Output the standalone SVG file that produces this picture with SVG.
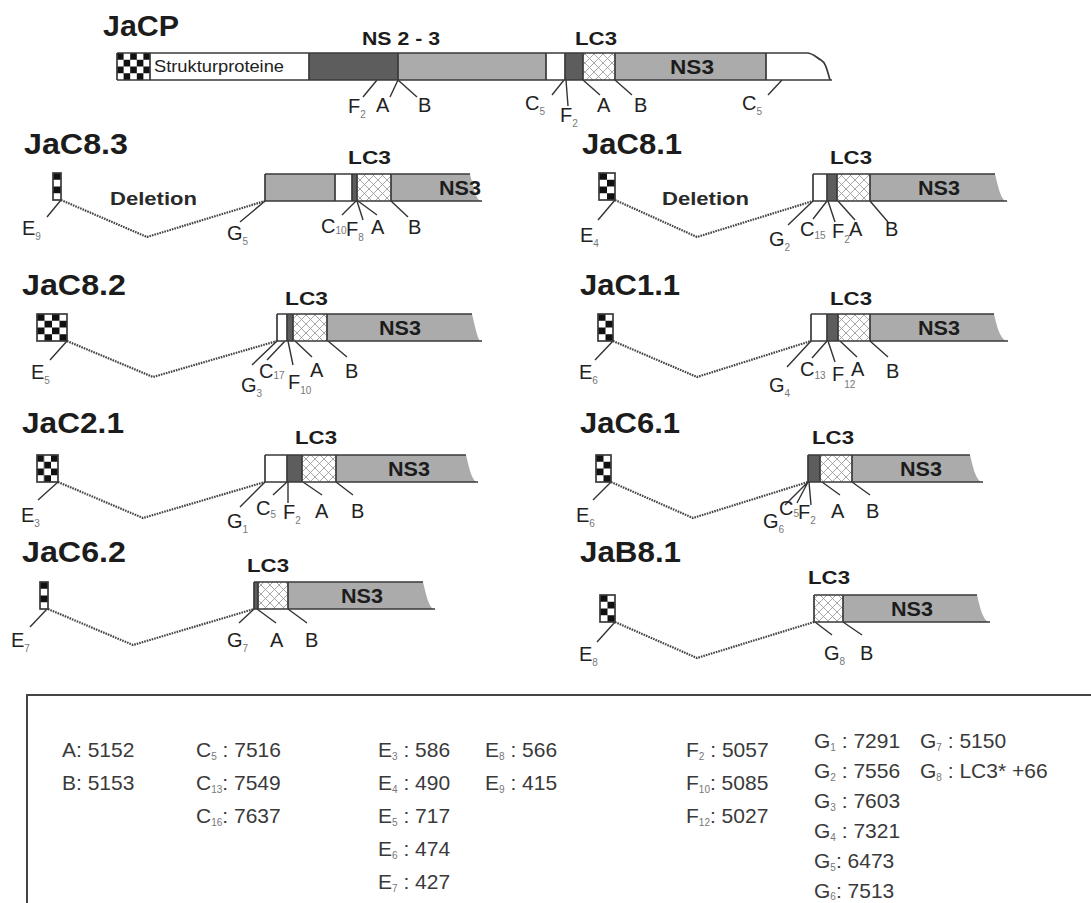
<svg xmlns="http://www.w3.org/2000/svg" width="1091" height="903" viewBox="0 0 1091 903">
<defs>
  <style>
    .title{font-family:"Liberation Sans",Arial,sans-serif;font-weight:bold;font-size:29px;fill:#1c1c1c}
    .hd{font-family:"Liberation Sans",Arial,sans-serif;font-weight:bold;font-size:19px;fill:#1c1c1c}
    .ns{font-family:"Liberation Sans",Arial,sans-serif;font-weight:bold;font-size:20px;fill:#1c1c1c;text-anchor:middle}
    .del{font-family:"Liberation Sans",Arial,sans-serif;font-weight:bold;font-size:19px;fill:#2a2a2a}
    .lb{font-family:"Liberation Sans",Arial,sans-serif;font-size:20px;fill:#222}
    .sp{font-family:"Liberation Sans",Arial,sans-serif;font-size:17px;fill:#222}
    .sb{font-size:10px;fill:#777}
    .lg{font-family:"Liberation Sans",Arial,sans-serif;font-size:21px;fill:#3a3a3a}
    .w{fill:#ffffff}
    .g{fill:#ababab}
    .d{fill:#5d5d5d}
    .h{fill:url(#hatch)}
    .ol{fill:none;stroke:#3a3a3a;stroke-width:1.7}
    .tk{fill:none;stroke:#333;stroke-width:1.4}
    .dot{fill:none;stroke:#444;stroke-width:2.2;stroke-dasharray:1.6 1}
  </style>
  <pattern id="hatch" patternUnits="userSpaceOnUse" width="9" height="9">
    <rect width="9" height="9" fill="#fff"/>
    <path d="M0,0 L9,9 M9,0 L0,9" stroke="#939393" stroke-width="0.8"/>
  </pattern>
  <pattern id="chk5" patternContentUnits="objectBoundingBox" width="0.4" height="0.5">
    <rect width="0.4" height="0.5" fill="#fff"/>
    <rect x="0" y="0" width="0.2" height="0.25" fill="#111"/>
    <rect x="0.2" y="0.25" width="0.2" height="0.25" fill="#111"/>
  </pattern>
  <pattern id="chk4" patternContentUnits="objectBoundingBox" width="0.5" height="0.5">
    <rect width="0.5" height="0.5" fill="#fff"/>
    <rect x="0" y="0" width="0.25" height="0.25" fill="#111"/>
    <rect x="0.25" y="0.25" width="0.25" height="0.25" fill="#111"/>
  </pattern>
  <pattern id="chk3" patternContentUnits="objectBoundingBox" width="0.6667" height="0.5">
    <rect width="0.6667" height="0.5" fill="#fff"/>
    <rect x="0" y="0" width="0.3333" height="0.25" fill="#111"/>
    <rect x="0.3333" y="0.25" width="0.3333" height="0.25" fill="#111"/>
  </pattern>
  <pattern id="chk2" patternContentUnits="objectBoundingBox" width="1" height="0.5">
    <rect width="1" height="0.5" fill="#fff"/>
    <rect x="0" y="0" width="0.5" height="0.25" fill="#111"/>
    <rect x="0.5" y="0.25" width="0.5" height="0.25" fill="#111"/>
  </pattern>
  <pattern id="chk1" patternContentUnits="objectBoundingBox" width="1" height="0.5">
    <rect width="1" height="0.5" fill="#fff"/>
    <rect x="0" y="0" width="1" height="0.25" fill="#111"/>
  </pattern>
</defs>
<rect width="1091" height="903" fill="#fff"/>

<!-- deletion links and label leaders -->
<g id="connectors">
  <path class="dot" d="M61,200 L147,237 L265,201"/>
  <path class="dot" d="M615,200 L697,237 L813,201"/>
  <path class="dot" d="M67,341 L153,377 L277,341"/>
  <path class="dot" d="M613,341 L697,377 L811,341"/>
  <path class="dot" d="M58,482 L143,518 L265,482"/>
  <path class="dot" d="M611,482 L693,518 L808,482"/>
  <path class="dot" d="M48,609 L133,645 L254,609"/>
  <path class="dot" d="M615,622 L697,658 L814,622"/>
  <!-- JaCP -->
  <path class="tk" d="M377,80 L363,97 M398,80 L390,97 M398,80 L417,97 M564,80 L552,95 M566,80 L568,106 M583,80 L600,95 M615,80 L632,95 M782,80 L768,95"/>
  <!-- JaC8.3 -->
  <path class="tk" d="M61,200 L47,217 M265,201 L240,222 M356,201 L342,215 M357,201 L363,220 M358,201 L377,215 M391,201 L408,217"/>
  <!-- JaC8.1 -->
  <path class="tk" d="M615,200 L598,220 M813,201 L788,225 M827,201 L813,219 M828,201 L835,222 M838,201 L855,220 M870,201 L888,222"/>
  <!-- JaC8.2 -->
  <path class="tk" d="M67,341 L50,360 M277,341 L252,365 M285,341 L267,360 M288,341 L293,365 M295,341 L312,357 M328,341 L347,357"/>
  <!-- JaC1.1 -->
  <path class="tk" d="M613,341 L595,360 M811,341 L787,367 M827,341 L812,358 M828,341 L835,362 M840,341 L857,357 M870,341 L888,357"/>
  <!-- JaC2.1 -->
  <path class="tk" d="M58,482 L38,500 M265,482 L240,507 M287,482 L273,495 M288,482 L288,503 M303,482 L322,495 M336,482 L353,495"/>
  <!-- JaC6.1 -->
  <path class="tk" d="M611,482 L593,500 M808,482 L785,505 M808,482 L797,503 M809,482 L811,505 M822,482 L840,495 M852,482 L870,495"/>
  <!-- JaC6.2 -->
  <path class="tk" d="M47,609 L30,627 M254,609 L239,623 M257,609 L276,623 M288,609 L307,623"/>
  <!-- JaB8.1 -->
  <path class="tk" d="M615,622 L597,642 M815,622 L832,635 M843,622 L862,635"/>
</g>

<!-- full-length construct -->
<g id="jacp">
  <text class="title" x="103" y="36" textLength="76" lengthAdjust="spacingAndGlyphs">JaCP</text>
  <text class="hd" x="362" y="45" textLength="78" lengthAdjust="spacingAndGlyphs">NS 2 - 3</text>
  <text class="hd" x="575" y="45" textLength="42" lengthAdjust="spacingAndGlyphs">LC3</text>
  <rect x="117" y="53" width="33" height="27" fill="url(#chk5)"/>
  <rect class="w" x="150" y="53" width="159" height="27"/>
  <rect class="d" x="309" y="53" width="89" height="27"/>
  <rect class="g" x="398" y="53" width="148" height="27"/>
  <rect class="w" x="546" y="53" width="19" height="27"/>
  <rect class="d" x="565" y="53" width="18" height="27"/>
  <rect class="h" x="583" y="53" width="32" height="27"/>
  <rect class="g" x="615" y="53" width="151" height="27"/>
  <path class="w" d="M766,53 H807 C813,53 817,58 821,60 C826,63 827,70 830,80 H766 Z"/>
  <path class="ol" d="M117,53 H807 C813,53 817,58 821,60 C826,63 827,70 830,80 M117,80 H832 M117,53 V80 M150,53 V80 M309,53 V80 M398,53 V80 M546,53 V80 M565,53 V80 M583,53 V80 M615,53 V80 M766,53 V80"/>
  <text class="sp" x="154" y="72" textLength="130" lengthAdjust="spacingAndGlyphs">Strukturproteine</text>
  <text class="ns" x="692" y="74" textLength="44" lengthAdjust="spacingAndGlyphs">NS3</text>
  <text class="lb" x="348" y="113">F<tspan class="sb" dy="5">2</tspan></text>
  <text class="lb" x="376" y="112">A</text>
  <text class="lb" x="418" y="112">B</text>
  <text class="lb" x="525" y="110">C<tspan class="sb" dy="5">5</tspan></text>
  <text class="lb" x="560" y="122">F<tspan class="sb" dy="5">2</tspan></text>
  <text class="lb" x="597" y="112">A</text>
  <text class="lb" x="634" y="112">B</text>
  <text class="lb" x="742" y="110">C<tspan class="sb" dy="5">5</tspan></text>
</g>

<!-- JaC8.3 -->
<g id="jac83">
  <text class="title" x="24" y="154" textLength="104" lengthAdjust="spacingAndGlyphs">JaC8.3</text>
  <rect x="53" y="173" width="8" height="27" fill="url(#chk1)"/>
  <rect class="ol" x="53" y="173" width="8" height="27"/>
  <text class="del" x="110" y="205" textLength="87" lengthAdjust="spacingAndGlyphs">Deletion</text>
  <text class="hd" x="348" y="164" textLength="43" lengthAdjust="spacingAndGlyphs">LC3</text>
  <rect class="g" x="265" y="174" width="70" height="27"/>
  <rect class="w" x="335" y="174" width="17" height="27"/>
  <rect class="d" x="352" y="174" width="5" height="27"/>
  <rect class="h" x="357" y="174" width="34" height="27"/>
  <path class="g" d="M391,174 H470 C473,186 475,197 480,201 H391 Z"/>
  <path class="ol" d="M265,174 H470 M265,201 H482 M265,174 V201 M335,174 V201 M352,174 V201 M357,174 V201 M391,174 V201"/>
  <text class="ns" x="460" y="195" textLength="42" lengthAdjust="spacingAndGlyphs">NS3</text>
  <text class="lb" x="22" y="235">E<tspan class="sb" dy="5">9</tspan></text>
  <text class="lb" x="227" y="240">G<tspan class="sb" dy="5">5</tspan></text>
  <text class="lb" x="321" y="233">C<tspan class="sb" dy="1">10</tspan></text>
  <text class="lb" x="346" y="236">F<tspan class="sb" dy="5">8</tspan></text>
  <text class="lb" x="371" y="234">A</text>
  <text class="lb" x="408" y="234">B</text>
</g>

<!-- JaC8.1 -->
<g id="jac81">
  <text class="title" x="582" y="154" textLength="100" lengthAdjust="spacingAndGlyphs">JaC8.1</text>
  <rect x="599" y="173" width="16" height="27" fill="url(#chk2)"/>
  <rect class="ol" x="599" y="173" width="16" height="27"/>
  <text class="del" x="662" y="205" textLength="87" lengthAdjust="spacingAndGlyphs">Deletion</text>
  <text class="hd" x="830" y="164" textLength="42" lengthAdjust="spacingAndGlyphs">LC3</text>
  <rect class="w" x="813" y="174" width="14" height="27"/>
  <rect class="d" x="827" y="174" width="10" height="27"/>
  <rect class="h" x="837" y="174" width="33" height="27"/>
  <path class="g" d="M870,174 H995 C998,186 1000,197 1005,201 H870 Z"/>
  <path class="ol" d="M813,174 H995 M813,201 H1007 M813,174 V201 M827,174 V201 M837,174 V201 M870,174 V201"/>
  <text class="ns" x="939" y="195" textLength="42" lengthAdjust="spacingAndGlyphs">NS3</text>
  <text class="lb" x="580" y="242">E<tspan class="sb" dy="5">4</tspan></text>
  <text class="lb" x="769" y="246">G<tspan class="sb" dy="5">2</tspan></text>
  <text class="lb" x="800" y="236">C<tspan class="sb" dy="3">15</tspan></text>
  <text class="lb" x="832" y="238">F<tspan class="sb" dy="5">2</tspan></text>
  <text class="lb" x="849" y="236">A</text>
  <text class="lb" x="885" y="236">B</text>
</g>

<!-- JaC8.2 -->
<g id="jac82">
  <text class="title" x="22" y="295" textLength="104" lengthAdjust="spacingAndGlyphs">JaC8.2</text>
  <rect x="37" y="314" width="30" height="27" fill="url(#chk4)"/>
  <rect class="ol" x="37" y="314" width="30" height="27"/>
  <text class="hd" x="285" y="305" textLength="43" lengthAdjust="spacingAndGlyphs">LC3</text>
  <rect class="w" x="277" y="314" width="10" height="27"/>
  <rect class="d" x="287" y="314" width="6" height="27"/>
  <rect class="h" x="293" y="314" width="34" height="27"/>
  <path class="g" d="M327,314 H472 C475,326 477,337 480,341 H327 Z"/>
  <path class="ol" d="M277,314 H472 M277,341 H482 M277,314 V341 M287,314 V341 M293,314 V341 M327,314 V341"/>
  <text class="ns" x="400" y="335" textLength="42" lengthAdjust="spacingAndGlyphs">NS3</text>
  <text class="lb" x="31" y="379">E<tspan class="sb" dy="5">5</tspan></text>
  <text class="lb" x="241" y="392">G<tspan class="sb" dy="5">3</tspan></text>
  <text class="lb" x="259" y="378">C<tspan class="sb" dy="1">17</tspan></text>
  <text class="lb" x="288" y="389">F<tspan class="sb" dy="5">10</tspan></text>
  <text class="lb" x="310" y="377">A</text>
  <text class="lb" x="345" y="378">B</text>
</g>

<!-- JaC1.1 -->
<g id="jac11">
  <text class="title" x="580" y="295" textLength="100" lengthAdjust="spacingAndGlyphs">JaC1.1</text>
  <rect x="598" y="314" width="15" height="27" fill="url(#chk2)"/>
  <rect class="ol" x="598" y="314" width="15" height="27"/>
  <text class="hd" x="830" y="305" textLength="42" lengthAdjust="spacingAndGlyphs">LC3</text>
  <rect class="w" x="811" y="314" width="16" height="27"/>
  <rect class="d" x="827" y="314" width="11" height="27"/>
  <rect class="h" x="838" y="314" width="32" height="27"/>
  <path class="g" d="M870,314 H994 C997,326 999,337 1006,341 H870 Z"/>
  <path class="ol" d="M811,314 H994 M811,341 H1008 M811,314 V341 M827,314 V341 M838,314 V341 M870,314 V341"/>
  <text class="ns" x="939" y="335" textLength="42" lengthAdjust="spacingAndGlyphs">NS3</text>
  <text class="lb" x="579" y="379">E<tspan class="sb" dy="5">6</tspan></text>
  <text class="lb" x="769" y="392">G<tspan class="sb" dy="5">4</tspan></text>
  <text class="lb" x="800" y="376">C<tspan class="sb" dy="3">13</tspan></text>
  <text class="lb" x="832" y="381">F<tspan class="sb" dy="7">12</tspan></text>
  <text class="lb" x="851" y="376">A</text>
  <text class="lb" x="886" y="378">B</text>
</g>

<!-- JaC2.1 -->
<g id="jac21">
  <text class="title" x="22" y="433" textLength="102" lengthAdjust="spacingAndGlyphs">JaC2.1</text>
  <rect x="37" y="455" width="21" height="27" fill="url(#chk3)"/>
  <rect class="ol" x="37" y="455" width="21" height="27"/>
  <text class="hd" x="295" y="444" textLength="42" lengthAdjust="spacingAndGlyphs">LC3</text>
  <rect class="w" x="265" y="455" width="22" height="27"/>
  <rect class="d" x="287" y="455" width="15" height="27"/>
  <rect class="h" x="302" y="455" width="34" height="27"/>
  <path class="g" d="M336,455 H466 C469,467 471,478 476,482 H336 Z"/>
  <path class="ol" d="M265,455 H466 M265,482 H478 M265,455 V482 M287,455 V482 M302,455 V482 M336,455 V482"/>
  <text class="ns" x="409" y="476" textLength="42" lengthAdjust="spacingAndGlyphs">NS3</text>
  <text class="lb" x="21" y="522">E<tspan class="sb" dy="5">3</tspan></text>
  <text class="lb" x="227" y="528">G<tspan class="sb" dy="5">1</tspan></text>
  <text class="lb" x="256" y="515">C<tspan class="sb" dy="3">5</tspan></text>
  <text class="lb" x="283" y="519">F<tspan class="sb" dy="5">2</tspan></text>
  <text class="lb" x="315" y="518">A</text>
  <text class="lb" x="351" y="518">B</text>
</g>

<!-- JaC6.1 -->
<g id="jac61">
  <text class="title" x="580" y="433" textLength="100" lengthAdjust="spacingAndGlyphs">JaC6.1</text>
  <rect x="596" y="455" width="15" height="27" fill="url(#chk2)"/>
  <rect class="ol" x="596" y="455" width="15" height="27"/>
  <text class="hd" x="812" y="444" textLength="42" lengthAdjust="spacingAndGlyphs">LC3</text>
  <rect class="d" x="808" y="455" width="12" height="27"/>
  <rect class="h" x="820" y="455" width="32" height="27"/>
  <path class="g" d="M852,455 H970 C973,467 975,478 981,482 H852 Z"/>
  <path class="ol" d="M808,455 H970 M808,482 H983 M808,455 V482 M820,455 V482 M852,455 V482"/>
  <text class="ns" x="921" y="476" textLength="42" lengthAdjust="spacingAndGlyphs">NS3</text>
  <text class="lb" x="576" y="522">E<tspan class="sb" dy="5">6</tspan></text>
  <text class="lb" x="763" y="528">G<tspan class="sb" dy="5">6</tspan></text>
  <text class="lb" x="779" y="515">C<tspan class="sb" dy="2">5</tspan></text>
  <text class="lb" x="798" y="519">F<tspan class="sb" dy="5">2</tspan></text>
  <text class="lb" x="831" y="518">A</text>
  <text class="lb" x="866" y="518">B</text>
</g>

<!-- JaC6.2 -->
<g id="jac62">
  <text class="title" x="22" y="562" textLength="104" lengthAdjust="spacingAndGlyphs">JaC6.2</text>
  <rect x="40" y="582" width="8" height="27" fill="url(#chk1)"/>
  <rect class="ol" x="40" y="582" width="8" height="27"/>
  <text class="hd" x="247" y="572" textLength="42" lengthAdjust="spacingAndGlyphs">LC3</text>
  <rect class="d" x="254" y="582" width="4" height="27"/>
  <rect class="h" x="258" y="582" width="30" height="27"/>
  <path class="g" d="M288,582 H423 C426,594 428,605 433,609 H288 Z"/>
  <path class="ol" d="M254,582 H423 M254,609 H435 M254,582 V609 M258,582 V609 M288,582 V609"/>
  <text class="ns" x="362" y="603" textLength="42" lengthAdjust="spacingAndGlyphs">NS3</text>
  <text class="lb" x="11" y="647">E<tspan class="sb" dy="5">7</tspan></text>
  <text class="lb" x="227" y="647">G<tspan class="sb" dy="5">7</tspan></text>
  <text class="lb" x="270" y="647">A</text>
  <text class="lb" x="305" y="647">B</text>
</g>

<!-- JaB8.1 -->
<g id="jab81">
  <text class="title" x="580" y="562" textLength="101" lengthAdjust="spacingAndGlyphs">JaB8.1</text>
  <rect x="600" y="595" width="15" height="27" fill="url(#chk2)"/>
  <rect class="ol" x="600" y="595" width="15" height="27"/>
  <text class="hd" x="808" y="584" textLength="42" lengthAdjust="spacingAndGlyphs">LC3</text>
  <rect class="h" x="814" y="595" width="29" height="27"/>
  <path class="g" d="M843,595 H977 C980,607 982,618 988,622 H843 Z"/>
  <path class="ol" d="M814,595 H977 M814,622 H990 M814,595 V622 M843,595 V622"/>
  <text class="ns" x="912" y="616" textLength="42" lengthAdjust="spacingAndGlyphs">NS3</text>
  <text class="lb" x="579" y="661">E<tspan class="sb" dy="5">8</tspan></text>
  <text class="lb" x="824" y="660">G<tspan class="sb" dy="5">8</tspan></text>
  <text class="lb" x="860" y="660">B</text>
</g>

<!-- position legend -->
<g id="legend">
  <rect x="27" y="695" width="1100" height="300" fill="none" stroke="#444" stroke-width="2"/>
  <text class="lg" x="62" y="757">A: 5152</text>
  <text class="lg" x="62" y="790">B: 5153</text>
  <text class="lg" x="196" y="757">C<tspan class="sb" dy="3">5</tspan><tspan dy="-3"> : 7516</tspan></text>
  <text class="lg" x="196" y="790">C<tspan class="sb" dy="3">13</tspan><tspan dy="-3">: 7549</tspan></text>
  <text class="lg" x="196" y="823">C<tspan class="sb" dy="3">16</tspan><tspan dy="-3">: 7637</tspan></text>
  <text class="lg" x="378" y="757">E<tspan class="sb" dy="3">3</tspan><tspan dy="-3"> : 586</tspan></text>
  <text class="lg" x="378" y="790">E<tspan class="sb" dy="3">4</tspan><tspan dy="-3"> : 490</tspan></text>
  <text class="lg" x="378" y="823">E<tspan class="sb" dy="3">5</tspan><tspan dy="-3"> : 717</tspan></text>
  <text class="lg" x="378" y="856">E<tspan class="sb" dy="3">6</tspan><tspan dy="-3"> : 474</tspan></text>
  <text class="lg" x="378" y="889">E<tspan class="sb" dy="3">7</tspan><tspan dy="-3"> : 427</tspan></text>
  <text class="lg" x="485" y="757">E<tspan class="sb" dy="3">8</tspan><tspan dy="-3"> : 566</tspan></text>
  <text class="lg" x="485" y="790">E<tspan class="sb" dy="3">9</tspan><tspan dy="-3"> : 415</tspan></text>
  <text class="lg" x="686" y="757">F<tspan class="sb" dy="3">2</tspan><tspan dy="-3"> : 5057</tspan></text>
  <text class="lg" x="686" y="790">F<tspan class="sb" dy="3">10</tspan><tspan dy="-3">: 5085</tspan></text>
  <text class="lg" x="686" y="823">F<tspan class="sb" dy="3">12</tspan><tspan dy="-3">: 5027</tspan></text>
  <text class="lg" x="814" y="748">G<tspan class="sb" dy="3">1</tspan><tspan dy="-3"> : 7291</tspan></text>
  <text class="lg" x="814" y="778">G<tspan class="sb" dy="3">2</tspan><tspan dy="-3"> : 7556</tspan></text>
  <text class="lg" x="814" y="808">G<tspan class="sb" dy="3">3</tspan><tspan dy="-3"> : 7603</tspan></text>
  <text class="lg" x="814" y="838">G<tspan class="sb" dy="3">4</tspan><tspan dy="-3"> : 7321</tspan></text>
  <text class="lg" x="814" y="868">G<tspan class="sb" dy="3">5</tspan><tspan dy="-3">: 6473</tspan></text>
  <text class="lg" x="814" y="898">G<tspan class="sb" dy="2">6</tspan><tspan dy="-2">: 7513</tspan></text>
  <text class="lg" x="920" y="748">G<tspan class="sb" dy="3">7</tspan><tspan dy="-3"> : 5150</tspan></text>
  <text class="lg" x="920" y="778">G<tspan class="sb" dy="3">8</tspan><tspan dy="-3"> : LC3* +66</tspan></text>
</g>
</svg>
